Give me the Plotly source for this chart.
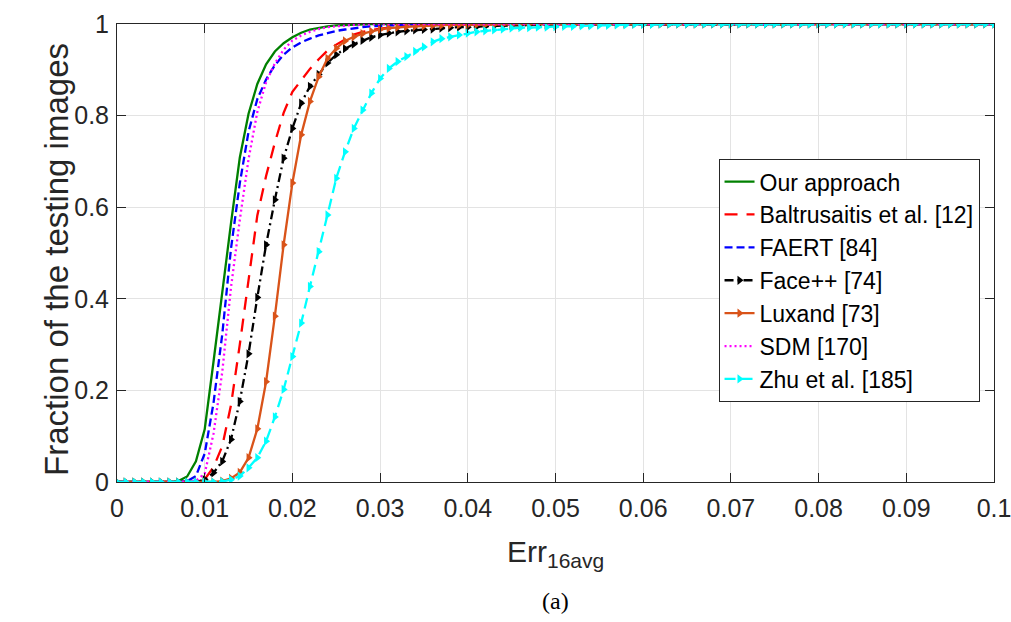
import plotly.graph_objects as go

# Error thresholds (Err_16avg), 0 to 0.1 in steps of 0.001
err_grid = [i / 1000 for i in range(101)]

# Cumulative fraction of testing images per method
our_approach = [0.0] * 7 + [
    0.002, 0.012, 0.045, 0.115, 0.262, 0.418, 0.565, 0.708, 0.804, 0.869,
    0.912, 0.940, 0.958, 0.971, 0.981, 0.988, 0.992, 0.995, 0.997, 0.998,
    0.999, 0.999] + [1.0] * 72

baltrusaitis = [0.0] * 9 + [
    0.001, 0.006, 0.032, 0.078, 0.168, 0.300, 0.445, 0.582, 0.668, 0.741,
    0.806, 0.852, 0.877, 0.902, 0.923, 0.942, 0.955, 0.966, 0.977, 0.983,
    0.987, 0.990, 0.992, 0.994, 0.995, 0.996, 0.997, 0.998, 0.998, 0.999,
    0.999, 0.999] + [1.0] * 60

faert = [0.0] * 8 + [
    0.002, 0.013, 0.062, 0.172, 0.322, 0.510, 0.652, 0.765, 0.836, 0.879,
    0.910, 0.933, 0.949, 0.960, 0.968, 0.975, 0.980, 0.985, 0.988, 0.991,
    0.993, 0.995, 0.996, 0.997, 0.998, 0.998, 0.999, 0.999] + [1.0] * 65

face_pp = [0.0] * 10 + [
    0.005, 0.020, 0.045, 0.093, 0.176, 0.280, 0.403, 0.518, 0.616, 0.707,
    0.772, 0.827, 0.864, 0.890, 0.915, 0.933, 0.946, 0.956, 0.964, 0.971,
    0.976, 0.980, 0.983, 0.985, 0.987, 0.988, 0.989, 0.991, 0.992, 0.993,
    0.993, 0.994, 0.995, 0.996, 0.996, 0.997, 0.997, 0.998, 0.998, 0.998,
    0.999, 0.999, 0.999, 0.999, 0.999, 0.999] + [1.0] * 45

luxand = [0.0] * 12 + [
    0.002, 0.008, 0.021, 0.053, 0.116, 0.219, 0.362, 0.518, 0.653, 0.758,
    0.831, 0.885, 0.925, 0.947, 0.963, 0.972, 0.979, 0.984, 0.988, 0.991,
    0.993, 0.994, 0.995, 0.996, 0.997, 0.997, 0.998, 0.998, 0.998, 0.999,
    0.999, 0.999, 0.999, 0.999] + [1.0] * 55

sdm = [0.0] * 9 + [
    0.003, 0.018, 0.105, 0.240, 0.425, 0.572, 0.705, 0.808, 0.873, 0.914,
    0.944, 0.964, 0.975, 0.983, 0.989, 0.993, 0.995, 0.997, 0.998, 0.999] + [1.0] * 72

zhu = [0.0] * 12 + [
    0.001, 0.005, 0.013, 0.031, 0.053, 0.089, 0.142, 0.202, 0.274, 0.347,
    0.427, 0.503, 0.583, 0.663, 0.721, 0.772, 0.812, 0.849, 0.881, 0.903,
    0.918, 0.929, 0.940, 0.950, 0.961, 0.968, 0.972, 0.976, 0.980, 0.983,
    0.985, 0.987, 0.989, 0.991, 0.992, 0.992, 0.993, 0.993, 0.994, 0.995,
    0.995, 0.996, 0.996, 0.997, 0.997, 0.998, 0.998, 0.999, 0.999, 0.999] + [1.0] * 39

x_ticks = [0, 0.01, 0.02, 0.03, 0.04, 0.05, 0.06, 0.07, 0.08, 0.09, 0.1]
x_tick_text = ["0", "0.01", "0.02", "0.03", "0.04", "0.05", "0.06", "0.07", "0.08", "0.09", "0.1"]
y_ticks = [0, 0.2, 0.4, 0.6, 0.8, 1]
y_tick_text = ["0", "0.2", "0.4", "0.6", "0.8", "1"]

FONT = "Liberation Sans, Arial, sans-serif"
INK = "#262626"

series = [
    ("Our approach", our_approach, "#008000", "solid", None),
    ("Baltrusaitis et al. [12]", baltrusaitis, "#ff0000", "13px,9px", None),
    ("FAERT [84]", faert, "#0000ff", "8px,4px", None),
    ("Face++ [74]", face_pp, "#000000", "9px,4px,2px,4px", "triangle-right"),
    ("Luxand [73]", luxand, "#d95319", "solid", "triangle-right"),
    ("SDM [170]", sdm, "#ff00ff", "2px,3px", None),
    ("Zhu et al. [185]", zhu, "#00ffff", "11px,6px", "triangle-right"),
]

fig = go.Figure()
for name, values, color, dash, symbol in series:
    mode = "lines+markers" if symbol else "lines"
    trace = dict(
        x=err_grid, y=values, name=name, mode=mode,
        line=dict(color=color, width=2.3, dash=dash),
    )
    if symbol:
        trace["marker"] = dict(symbol=symbol, size=8, color=color, line=dict(width=0))
    fig.add_trace(go.Scatter(**trace))

axis_common = dict(
    showline=True, linecolor=INK, linewidth=1, mirror="ticks",
    ticks="inside", ticklen=9, tickcolor=INK, tickwidth=1,
    showgrid=True, gridcolor="#e3e3e3", gridwidth=1,
    zeroline=False, automargin=False, ticklabeloverflow="allow",
    tickfont=dict(family=FONT, size=25, color=INK),
)

fig.update_xaxes(range=[0, 0.1], tickvals=x_ticks, ticktext=x_tick_text,
                 ticklabelstandoff=4, **axis_common)
fig.update_yaxes(range=[0, 1], tickvals=y_ticks, ticktext=y_tick_text,
                 ticklabelstandoff=2, **axis_common)

fig.update_layout(
    width=1011, height=622,
    margin=dict(l=117, r=17, t=24, b=140),
    paper_bgcolor="white", plot_bgcolor="white",
    showlegend=True,
    legend=dict(
        x=0.9835, xanchor="right", y=0.705, yanchor="top",
        bgcolor="white", bordercolor=INK, borderwidth=1,
        font=dict(family=FONT, size=23, color="#000000"),
        itemwidth=30, tracegroupgap=0,
    ),
    annotations=[
        dict(text="Fraction of the testing images", xref="paper", yref="paper",
             x=-0.069, y=0.486, xanchor="center", yanchor="middle", textangle=-90,
             showarrow=False, font=dict(family=FONT, size=33, color=INK)),
        dict(text="Err<sub>16avg</sub>", xref="paper", yref="paper",
             x=0.5, y=-0.112, xanchor="center", yanchor="top",
             showarrow=False, font=dict(family=FONT, size=30, color=INK)),
        dict(text="(a)", xref="paper", yref="paper",
             x=0.5, y=-0.228, xanchor="center", yanchor="top",
             showarrow=False, font=dict(family="Liberation Serif, serif", size=24, color="#000000")),
    ],
)

fig.write_html("out.html")
